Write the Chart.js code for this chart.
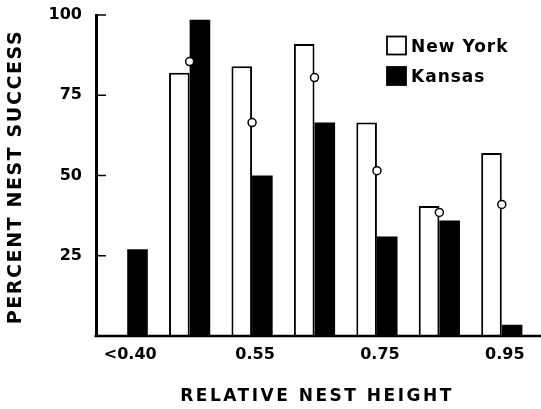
<!DOCTYPE html>
<html>
<head>
<meta charset="utf-8">
<script src="https://cdn.jsdelivr.net/npm/chart.js@4.4.1/dist/chart.umd.min.js"></script>
<style>
  html, body { margin: 0; padding: 0; background: #fff; }
  #wrap { width: 541px; height: 409px; }
</style>
</head>
<body>
<div id="wrap"><canvas id="chart" width="541" height="409"></canvas></div>
<script>
// --- data ---
const categories = ['<0.40', '0.45', '0.55', '0.65', '0.75', '0.85', '0.95'];
const tickLabels = ['<0.40', '', '0.55', '', '0.75', '', '0.95'];
const newYork = [null, 82, 84, 91, 66.5, 40.5, 57];
const kansas = [27, 98.5, 50, 66.5, 31, 36, 3.5];
const combined = [null, 85.5, 66.5, 80.5, 51.5, 38.5, 41];
const yTicks = [25, 50, 75, 100];

const FONT = 'DejaVu Sans';
Chart.defaults.font.family = FONT;
Chart.defaults.color = '#000';

// titles, legend, x axis line and inward ticks
const decor = {
    id: 'decor',
    afterDraw(chart) {
        const { ctx, chartArea, scales: { x, y } } = chart;
        const base = y.getPixelForValue(0);
        ctx.save();
        ctx.strokeStyle = '#000';
        ctx.fillStyle = '#000';

        // x axis runs to the edge
        ctx.lineWidth = 2.5;
        ctx.beginPath();
        ctx.moveTo(chartArea.left - 1.5, base);
        ctx.lineTo(chart.width, base);
        ctx.stroke();

        // short ticks pointing into the plot
        ctx.lineWidth = 1.5;
        yTicks.forEach(v => {
            const py = y.getPixelForValue(v);
            ctx.beginPath();
            ctx.moveTo(chartArea.left, py);
            ctx.lineTo(chartArea.left + 10, py);
            ctx.stroke();
        });

        // axis titles
        ctx.letterSpacing = '2.5px';
        ctx.font = 'bold 17px ' + FONT;
        ctx.textAlign = 'center';
        ctx.textBaseline = 'middle';
        ctx.fillText('RELATIVE NEST HEIGHT', 317, 397);

        ctx.save();
        ctx.translate(16, 177);
        ctx.rotate(-Math.PI / 2);
        ctx.font = 'bold 19px ' + FONT;
        ctx.letterSpacing = '1.6px';
        ctx.fillText('PERCENT NEST SUCCESS', 0, 0);
        ctx.restore();

        // legend
        ctx.letterSpacing = '1px';
        ctx.font = 'bold 17px ' + FONT;
        ctx.textAlign = 'left';
        const items = chart.data.datasets.filter(d => d.type !== 'line');
        items.forEach((ds, i) => {
            const top = 36.5 + i * 30.5;
            ctx.fillStyle = ds.backgroundColor;
            ctx.fillRect(387, top, 19, 18);
            ctx.lineWidth = 1.8;
            ctx.strokeRect(387, top, 19, 18);
            ctx.fillStyle = '#000';
            ctx.fillText(ds.label, 411, top + 11);
        });
        ctx.restore();
    }
};

new Chart(document.getElementById('chart'), {
    type: 'bar',
    data: {
        labels: categories,
        datasets: [
            {
                type: 'line',
                label: 'Combined',
                data: combined,
                showLine: false,
                pointStyle: 'circle',
                pointRadius: 4,
                pointBackgroundColor: '#fff',
                pointBorderColor: '#000',
                pointBorderWidth: 1.5,
                order: 0
            },
            {
                label: 'New York',
                data: newYork,
                backgroundColor: '#fff',
                borderColor: '#000',
                borderWidth: 2,
                order: 1
            },
            {
                label: 'Kansas',
                data: kansas,
                backgroundColor: '#000',
                borderColor: '#000',
                borderWidth: 0,
                order: 1
            }
        ]
    },
    options: {
        responsive: false,
        animation: false,
        categoryPercentage: 0.66,
        barPercentage: 1,
        layout: { padding: { top: 15, right: 8, left: 0, bottom: 0 } },
        scales: {
            x: {
                offset: true,
                grid: { display: false, drawTicks: false },
                border: { display: false },
                afterFit: s => { s.height = 73; },
                ticks: {
                    autoSkip: false, maxRotation: 0, padding: 9, labelOffset: 3,
                    font: { size: 16, weight: 'bold' },
                    callback: (v, i) => tickLabels[i]
                }
            },
            y: {
                min: 0, max: 100,
                grid: { drawOnChartArea: false, drawTicks: true, tickLength: 14, tickColor: 'rgba(0,0,0,0)' },
                border: { display: true, width: 3, color: '#000' },
                afterFit: s => { s.width = 96; },
                ticks: {
                    stepSize: 25, padding: 0,
                    font: { size: 16, weight: 'bold' },
                    callback: v => (yTicks.includes(v) ? v : '')
                }
            }
        },
        plugins: {
            legend: { display: false },
            tooltip: { enabled: false }
        }
    },
    plugins: [decor]
});
</script>
</body>
</html>
